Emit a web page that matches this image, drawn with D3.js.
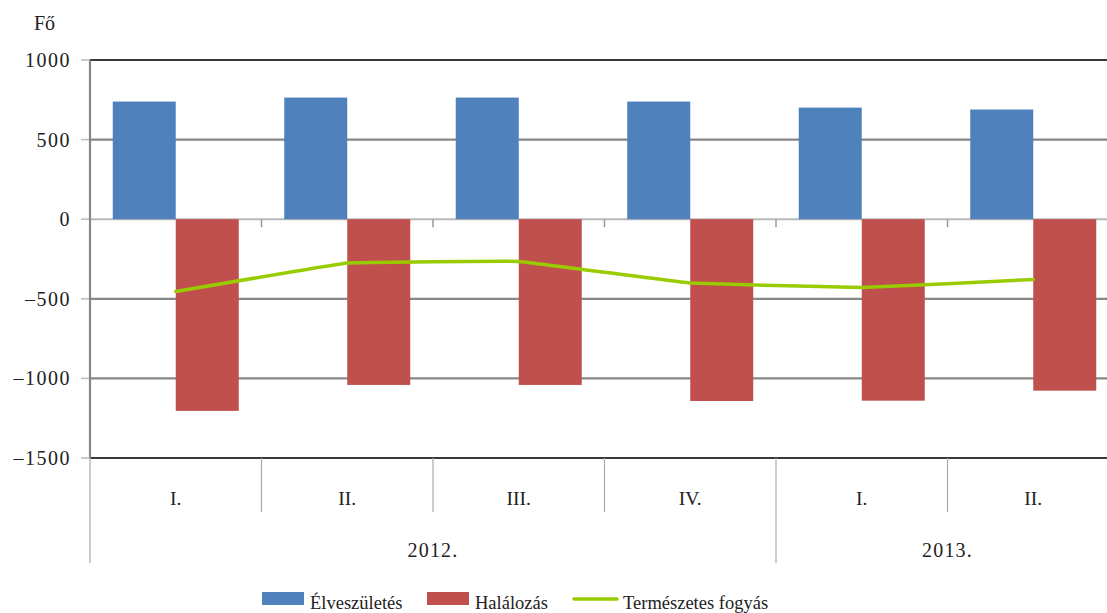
<!DOCTYPE html>
<html>
<head>
<meta charset="utf-8">
<script src="https://cdn.jsdelivr.net/npm/d3@7"></script>
<style>
  body { margin: 0; background: #fff; }
  text { font-family: "Liberation Serif", "DejaVu Serif", serif; fill: #222; }
</style>
</head>
<body>
<div id="chart"></div>
<script>

// data
var quarters = ["I.", "II.", "III.", "IV.", "I.", "II."];
var years = [ { label: "2012.", from: 0, to: 4 }, { label: "2013.", from: 4, to: 6 } ];
var births = [739, 764, 764, 739, 701, 689];          // Élveszületés
var deaths = [-1204, -1041, -1041, -1142, -1140, -1077]; // Halálozás
var naturalDecrease = [-454, -275, -265, -401, -429, -379]; // Természetes fogyás
var yTicks = [1000, 500, 0, -500, -1000, -1500];

var width = 1107, height = 613;

var plotLeft = 90, plotTop = 60, plotBottom = 458,
    catStep = 171.5,
    fontSize = "18.5px";

var svg = d3.select("#chart").append("svg")
    .attr("width", width).attr("height", height);

var idx = d3.range(quarters.length);

var x0 = d3.scaleBand().domain(idx).range([plotLeft, plotLeft + catStep * quarters.length]).padding(0);
var x1 = d3.scaleBand().domain(["b", "d"]).range([0, x0.bandwidth()]).paddingInner(0).paddingOuter(0.361);
var y = d3.scaleLinear().domain([-1500, 1000]).range([plotBottom, plotTop]);

// gridlines
svg.append("g").selectAll("line")
   .data(yTicks)
   .enter().append("line")
   .attr("x1", plotLeft).attr("x2", width)
   .attr("y1", function(d) { return y(d); })
   .attr("y2", function(d) { return y(d); })
   .style("stroke", function(d) {
      if (d === 1000 || d === -1500) return "#3a3a3a";
      if (d === 0) return "#b8b8b8";
      return "#878787";
   })
   .style("stroke-width", function(d) { return d === 0 ? 2 : 2.2; });

// left axis ticks + labels
svg.append("g").selectAll("line")
   .data(yTicks)
   .enter().append("line")
   .attr("x1", 81).attr("x2", plotLeft)
   .attr("y1", function(d) { return y(d); })
   .attr("y2", function(d) { return y(d); })
   .style("stroke", "#bbb").style("stroke-width", 1.5);

svg.append("g").selectAll("text")
   .data(yTicks)
   .enter().append("text")
   .attr("x", 71)
   .attr("y", function(d) { return y(d) + 7; })
   .attr("text-anchor", "end")
   .style("font-size", "20px")
   .style("letter-spacing", "1.5px")
   .text(function(d) { return d < 0 ? "\u2013" + Math.abs(d) : d; });

svg.append("text").attr("x", 34).attr("y", 30)
   .style("font-size", "20px").text("Fő");

// bars
svg.append("g").selectAll("rect")
   .data(idx)
   .enter().append("rect")
   .attr("x", function(i) { return x0(i) + x1("b"); })
   .attr("y", function(i) { return y(births[i]); })
   .attr("width", x1.bandwidth())
   .attr("height", function(i) { return y(0) - y(births[i]); })
   .style("fill", "#4f81bd");

svg.append("g").selectAll("rect")
   .data(idx)
   .enter().append("rect")
   .attr("x", function(i) { return x0(i) + x1("d"); })
   .attr("y", y(0))
   .attr("width", x1.bandwidth())
   .attr("height", function(i) { return y(deaths[i]) - y(0); })
   .style("fill", "#c0504d");

// small ticks under the zero line at category boundaries
svg.append("g").selectAll("line")
   .data(idx.slice(1))
   .enter().append("line")
   .attr("x1", function(i) { return x0(i); })
   .attr("x2", function(i) { return x0(i); })
   .attr("y1", y(0)).attr("y2", y(0) + 8)
   .style("stroke", "#999").style("stroke-width", 1.5);

// left axis line
svg.append("line")
   .attr("x1", plotLeft).attr("x2", plotLeft)
   .attr("y1", plotTop).attr("y2", plotBottom)
   .style("stroke", "#878787").style("stroke-width", 2.2);

// line (Excel-style, nearly straight segments)
var line = d3.line()
   .x(function(d, i) { return x0(i) + x0.bandwidth() / 2; })
   .y(function(d) { return y(d); })
   .curve(d3.curveCardinal.tension(0.85));

svg.append("path")
   .datum(naturalDecrease)
   .attr("d", line)
   .style("fill", "none")
   .style("stroke", "#99cc00")
   .style("stroke-width", 3.5)
   .style("stroke-linecap", "round");

// category axis
svg.append("g").selectAll("line")
   .data(idx.slice(1))
   .enter().append("line")
   .attr("x1", function(i) { return x0(i); })
   .attr("x2", function(i) { return x0(i); })
   .attr("y1", plotBottom)
   .attr("y2", function(i) { return years.some(function(yr) { return yr.from === i; }) ? 563 : 512; })
   .style("stroke", "#aaa").style("stroke-width", 1.2);

svg.append("line")
   .attr("x1", plotLeft).attr("x2", plotLeft)
   .attr("y1", plotBottom).attr("y2", 563)
   .style("stroke", "#aaa").style("stroke-width", 1.2);

svg.append("g").selectAll("text")
   .data(idx)
   .enter().append("text")
   .attr("x", function(i) { return x0(i) + x0.bandwidth() / 2; })
   .attr("y", 505)
   .attr("text-anchor", "middle")
   .style("font-size", "19.5px")
   .text(function(i) { return quarters[i]; });

svg.append("g").selectAll("text")
   .data(years)
   .enter().append("text")
   .attr("x", function(d) { return (x0(d.from) + x0(d.to - 1) + x0.bandwidth()) / 2; })
   .attr("y", 557)
   .attr("text-anchor", "middle")
   .style("font-size", "20px")
   .style("letter-spacing", "1.2px")
   .text(function(d) { return d.label; });

// legend
var legend = svg.append("g").attr("transform", "translate(0,599)");

legend.append("rect").attr("x", 262).attr("y", -7).attr("width", 42).attr("height", 13).style("fill", "#4f81bd");
legend.append("text").attr("x", 310).attr("y", 10).style("font-size", fontSize).text("Élveszületés");

legend.append("rect").attr("x", 427).attr("y", -7).attr("width", 42).attr("height", 13).style("fill", "#c0504d");
legend.append("text").attr("x", 475).attr("y", 10).style("font-size", fontSize).text("Halálozás");

legend.append("line").attr("x1", 574).attr("x2", 617).attr("y1", 0).attr("y2", 0)
      .style("stroke", "#99cc00").style("stroke-width", 3.5).style("stroke-linecap", "round");
legend.append("text").attr("x", 623).attr("y", 10).style("font-size", fontSize).text("Természetes fogyás");

</script>
</body>
</html>
